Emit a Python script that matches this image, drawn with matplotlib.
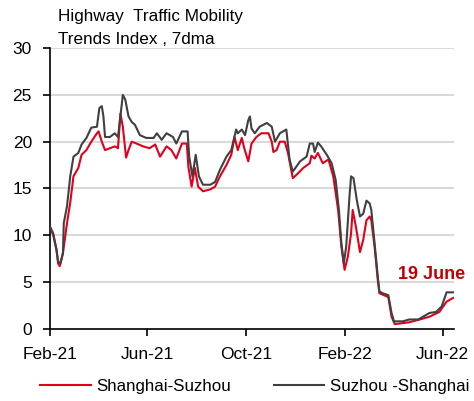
import numpy as np
import pandas as pd
import matplotlib
matplotlib.use('Agg')
import matplotlib.pyplot as plt

plt.rcParams['font.family'] = ['Liberation Sans', 'DejaVu Sans']

# Data (7dma index)
start = pd.Timestamp('2021-02-01')

# Suzhou -Shanghai (dark line): day offset from 1 Feb 2021, index value
ss_days = [0, 4, 8, 10, 13, 16, 17, 21, 25, 29, 35, 39, 45, 51, 58, 61, 64, 66, 68,
           74, 80, 84, 86, 90, 93, 97, 101, 105, 111, 119, 128, 132, 138, 144, 152,
           156, 163, 170, 172, 176, 180, 184, 189, 198, 204, 210, 218, 224, 230, 232,
           237, 241, 245, 247, 249, 253, 259, 268, 274, 278, 284, 292, 296, 300, 309,
           317, 321, 325, 327, 331, 335, 342, 348, 353, 357, 360, 363, 366, 370, 372,
           375, 379, 383, 387, 391, 395, 397, 401, 405, 407, 411, 418, 422, 425, 436,
           444, 455, 461, 469, 477, 484, 490, 498]
ss_vals = [10.9, 10.0, 8.4, 7.2, 7.0, 8.1, 11.3, 13.1, 16.3, 18.4, 18.8, 19.7, 20.4,
           21.5, 21.6, 23.6, 23.8, 22.7, 20.5, 20.5, 20.9, 20.5, 22.0, 25.0, 24.5, 22.7,
           22.1, 21.8, 20.7, 20.4, 20.4, 20.9, 20.2, 20.9, 20.5, 19.8, 21.1, 21.1, 18.4,
           16.3, 18.6, 16.3, 15.4, 15.4, 15.7, 17.0, 18.4, 19.1, 21.3, 20.9, 21.3, 20.7,
           22.3, 22.7, 21.4, 20.9, 21.6, 22.0, 21.6, 20.0, 20.9, 21.3, 18.1, 16.8, 17.9,
           18.4, 19.8, 19.8, 18.9, 19.9, 19.5, 18.6, 17.7, 15.9, 12.7, 9.2, 7.0, 8.8,
           14.1, 16.3, 16.1, 13.8, 12.0, 12.3, 13.7, 13.4, 12.7, 9.2, 5.6, 4.0, 3.8, 3.6,
           1.7, 0.8, 0.8, 1.0, 1.0, 1.3, 1.7, 1.8, 2.4, 3.9, 3.9]

# Shanghai-Suzhou (red line)
sh_days = [0, 4, 8, 10, 12, 16, 21, 25, 29, 35, 39, 45, 51, 58, 60, 64, 68, 74, 80,
           84, 87, 90, 94, 97, 101, 107, 115, 123, 130, 136, 144, 150, 156, 163, 169,
           171, 175, 179, 183, 189, 198, 204, 210, 218, 224, 228, 232, 237, 240, 245,
           249, 255, 261, 270, 274, 276, 280, 284, 290, 294, 300, 305, 313, 321, 323,
           327, 331, 337, 344, 350, 356, 360, 364, 368, 372, 374, 378, 383, 387, 391,
           395, 397, 401, 405, 407, 418, 422, 426, 444, 457, 469, 481, 490, 498]
sh_vals = [10.9, 10.2, 8.5, 7.0, 6.7, 8.1, 11.3, 13.5, 16.3, 17.2, 18.6, 19.1, 20.0,
           20.9, 21.1, 20.0, 19.1, 19.3, 19.5, 19.3, 23.0, 21.6, 18.3, 19.1, 20.0, 19.8,
           19.5, 19.3, 19.7, 18.4, 19.5, 19.1, 18.2, 19.8, 19.8, 17.3, 15.2, 17.2, 15.2,
           14.7, 14.9, 15.2, 16.3, 17.5, 18.6, 20.5, 19.1, 20.4, 19.3, 17.9, 19.8, 20.5,
           20.9, 20.9, 20.0, 18.9, 19.1, 20.0, 20.0, 18.8, 16.1, 16.5, 17.2, 17.7, 18.5,
           18.2, 18.8, 17.7, 18.1, 16.3, 12.7, 8.8, 6.3, 7.7, 10.2, 12.7, 10.9, 8.2, 9.5,
           11.6, 12.0, 11.6, 8.8, 5.2, 3.8, 3.4, 1.3, 0.5, 0.7, 1.0, 1.3, 1.8, 2.9, 3.3]

tick_dates = ['2021-02-01', '2021-06-01', '2021-10-01', '2022-02-01', '2022-06-01']
tick_labels = ['Feb-21', 'Jun-21', 'Oct-21', 'Feb-22', 'Jun-22']

ss_dates = start + pd.to_timedelta(ss_days, unit='D')
sh_dates = start + pd.to_timedelta(sh_days, unit='D')

fig = plt.figure(figsize=(4.74, 4.01), dpi=100)
ax = fig.add_axes([0.1055, 0.18, 0.852, 0.70])

ax.plot(sh_dates, sh_vals, color='#E2001A', lw=1.5, label='Shanghai-Suzhou', zorder=3)
ax.plot(ss_dates, ss_vals, color='#404040', lw=1.5, label='Suzhou -Shanghai', zorder=4)

ax.set_ylim(0, 30)
ax.set_yticks(np.arange(0, 31, 5))
ax.set_xlim(start, start + pd.Timedelta(days=499))
ax.set_xticks(pd.to_datetime(tick_dates))
ax.set_xticklabels(tick_labels)

for y in range(5, 31, 5):
    ax.axhline(y, color='#D9D9D9', lw=1.5, zorder=1)

for s in ['top', 'right']:
    ax.spines[s].set_visible(False)
ax.spines['left'].set_linewidth(1.2)
ax.spines['bottom'].set_linewidth(1.2)
ax.tick_params(axis='both', labelsize=12.5, length=5, width=1.2, direction='out')
ax.tick_params(axis='y', pad=8)
ax.tick_params(axis='x', pad=8)

ax.text(pd.Timestamp('2022-05-19'), 5.8, '19 June', color='#C00000',
        fontsize=13, fontweight='bold', ha='center', va='center')

fig.text(58 / 474, 1 - 17 / 401, 'Highway  Traffic Mobility', fontsize=12.3,
         ha='left', va='center')
fig.text(58 / 474, 1 - 40 / 401, 'Trends Index , 7dma', fontsize=12.3,
         ha='left', va='center')

fig.legend(loc='center left', bbox_to_anchor=(33 / 474, 1 - 386 / 401), ncol=2,
           frameon=False, fontsize=12.2, handlelength=3.0, handletextpad=0.35,
           columnspacing=2.5, borderaxespad=0)

plt.savefig('out.png', dpi=100)
